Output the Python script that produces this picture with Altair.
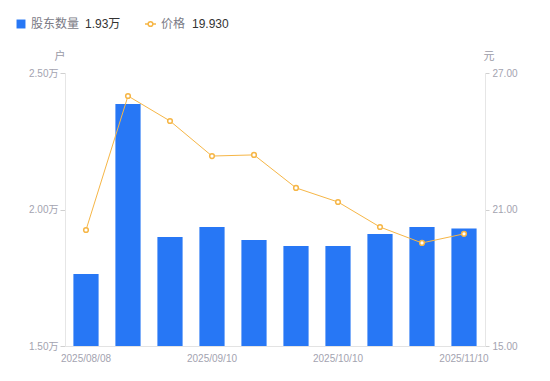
import altair as alt
import pandas as pd

dates = ["2025/08/08", "2025/08/20", "2025/08/31", "2025/09/10", "2025/09/19",
         "2025/09/30", "2025/10/10", "2025/10/20", "2025/10/31", "2025/11/10"]
holders = [1.764, 2.386, 1.899, 1.936, 1.888, 1.866, 1.866, 1.910, 1.936, 1.93]
prices = [20.10, 25.99, 24.89, 23.35, 23.40, 21.95, 21.33, 20.23, 19.53, 19.93]
shown_labels = ["2025/08/08", "2025/09/10", "2025/10/10", "2025/11/10"]

df = pd.DataFrame({"date": dates, "holders": holders, "price": prices})
one = pd.DataFrame({"k": [0]})

BLUE = "#2777F5"
ORANGE = "#F6B646"
FONT = "Liberation Sans, Noto Sans CJK SC, sans-serif"

x = alt.X("date:N", sort=dates, title=None,
          scale=alt.Scale(paddingInner=0.4, paddingOuter=0.2),
          axis=alt.Axis(labelAngle=0, ticks=False, domainColor="#e3e3e3",
                        labelColor="#a3a3b0", labelFontSize=10, labelFont=FONT,
                        labelPadding=7,
                        labelExpr="indexof(" + str(shown_labels) + ", datum.value) >= 0 ? datum.value : ''"))

bars = alt.Chart(df).mark_bar(color=BLUE, clip=True).encode(
    x=x,
    y=alt.Y("holders:Q", title=None,
            scale=alt.Scale(domain=[1.5, 2.5], nice=False, zero=False),
            axis=alt.Axis(orient="left", values=[1.5, 2.0, 2.5], grid=False,
                          domainColor="#e6e6e6", tickColor="#d0d0d0", tickSize=5,
                          labelColor="#a3a3b0", labelFontSize=10, labelFont=FONT,
                          labelPadding=2,
                          labelExpr="format(datum.value, '.2f') + '万'")),
)

line = alt.Chart(df).mark_line(
    color=ORANGE, strokeWidth=1,
    point=alt.OverlayMarkDef(filled=True, fill="white", stroke=ORANGE, strokeWidth=1.5, size=22),
).encode(
    x=x,
    y=alt.Y("price:Q", title=None,
            scale=alt.Scale(domain=[15, 27], nice=False, zero=False),
            axis=alt.Axis(orient="right", values=[15, 21, 27], grid=False, format=".2f",
                          domainColor="#e6e6e6", tickColor="#d0d0d0", tickSize=4,
                          labelColor="#a3a3b0", labelFontSize=10, labelFont=FONT,
                          labelPadding=3)),
)

base = alt.Chart(one)
# axis unit titles
unit_left = base.mark_text(text="户", fontSize=11, color="#9a9aa6", font=FONT).encode(
    x=alt.value(-5), y=alt.value(-16))
unit_right = base.mark_text(text="元", fontSize=11, color="#9a9aa6", font=FONT).encode(
    x=alt.value(424), y=alt.value(-16))

# custom legend
leg_sq = base.mark_square(color=BLUE, size=80, opacity=1, filled=True).encode(
    x=alt.value(-44), y=alt.value(-49))
leg_t1 = base.mark_text(text="股东数量", align="left", fontSize=12, color="#7a7a85", font=FONT).encode(
    x=alt.value(-34), y=alt.value(-49))
leg_v1 = base.mark_text(text="1.93万", align="left", fontSize=12, color="#333333", font=FONT).encode(
    x=alt.value(20), y=alt.value(-49))
leg_ln = base.mark_rule(color=ORANGE, strokeWidth=1.5).encode(
    x=alt.value(80), x2=alt.value(91), y=alt.value(-49))
leg_pt = base.mark_point(color=ORANGE, fill="white", filled=True, stroke=ORANGE,
                         strokeWidth=1.5, size=22, opacity=1).encode(
    x=alt.value(85.5), y=alt.value(-49))
leg_t2 = base.mark_text(text="价格", align="left", fontSize=12, color="#7a7a85", font=FONT).encode(
    x=alt.value(96), y=alt.value(-49))
leg_v2 = base.mark_text(text="19.930", align="left", fontSize=12, color="#333333", font=FONT).encode(
    x=alt.value(127), y=alt.value(-49))

chart = alt.layer(
    bars, line, unit_left, unit_right,
    leg_sq, leg_t1, leg_v1, leg_ln, leg_pt, leg_t2, leg_v2,
).resolve_scale(y="independent").properties(
    width=420, height=273,
    autosize=alt.AutoSizeParams(type="none"),
    padding={"left": 57, "top": 65, "right": 50, "bottom": 25},
).configure_view(stroke=None)

chart.save("out.html", embed_options={"renderer": "svg", "actions": False})
